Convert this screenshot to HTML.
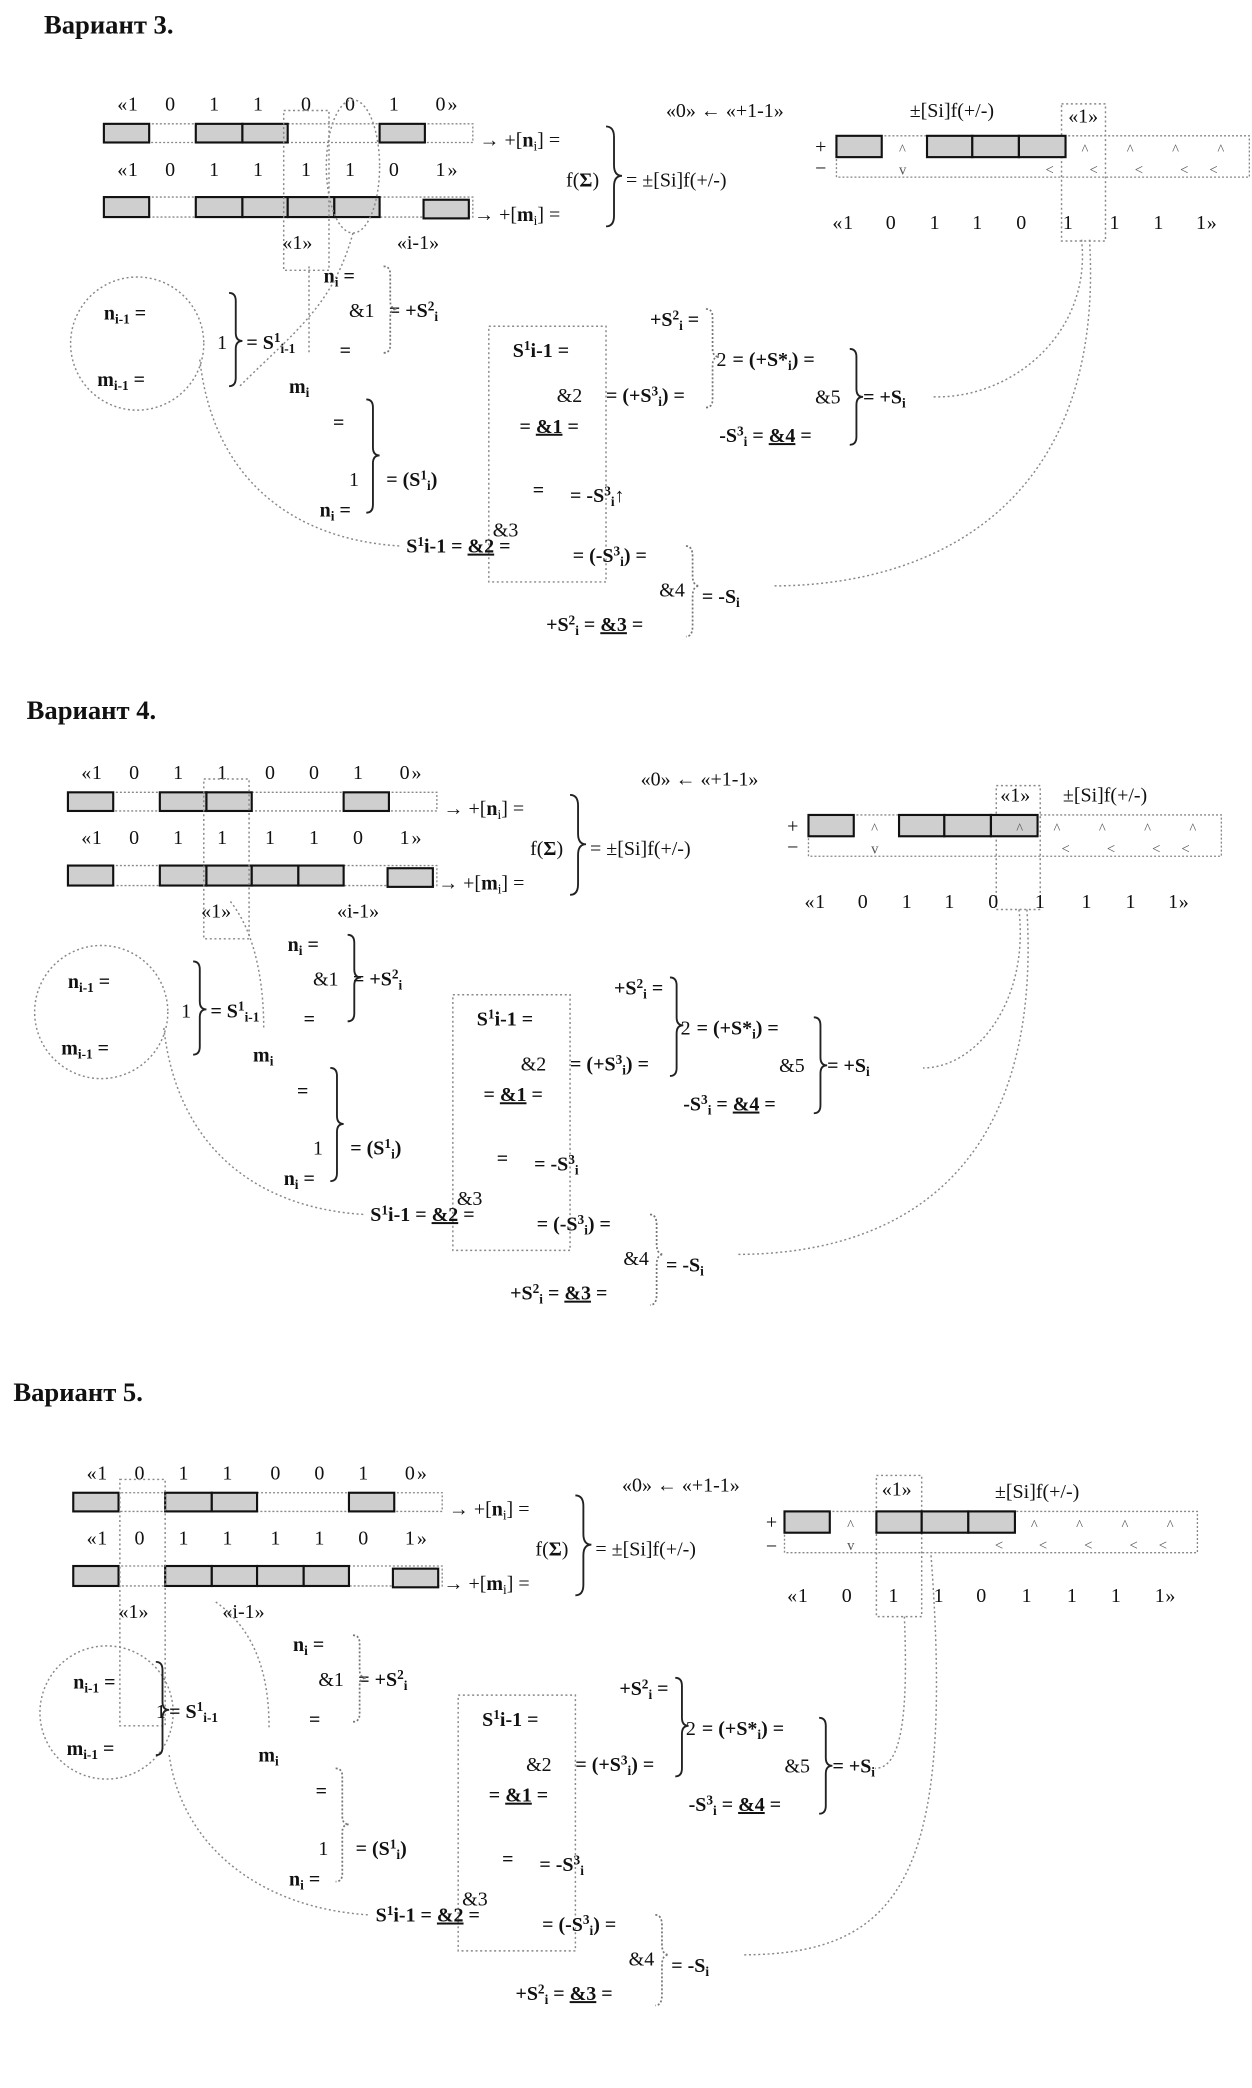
<!DOCTYPE html>
<html><head><meta charset="utf-8"><style>
html,body{margin:0;padding:0;background:#fff}
svg{display:block}
text{font-family:"Liberation Serif",serif;fill:#111}
.t{font-size:15px}
.h{font-size:20px;font-weight:bold}
.b{font-size:15px;font-weight:bold}
.s{font-size:10px}
.f{fill:#cfcfcf;stroke:#111;stroke-width:1.6}
.e{fill:none;stroke:#888;stroke-width:1;stroke-dasharray:1.5 1.5}
.d{fill:none;stroke:#888;stroke-width:1.1;stroke-dasharray:1.5 2}
.br{fill:none;stroke:#222;stroke-width:1.4}
.db{fill:none;stroke:#777;stroke-width:1.3;stroke-dasharray:1.5 1.5}
.a{font-size:11px;fill:#555}
</style></head><body>
<svg width="1252" height="2088" viewBox="0 0 940 1568" preserveAspectRatio="none" xmlns="http://www.w3.org/2000/svg">
<text x="33" y="25" class="h">Вариант 3.</text>
<text x="20" y="540" class="h">Вариант 4.</text>
<text x="10" y="1052" class="h">Вариант 5.</text>

<!-- ============ VARIANT 3 ============ -->
<g transform="translate(0,0)">
<text class="t" y="83" x="88 96 124 157 190 226 259 292 327 336">«10110010»</text>
<rect class="e" x="78" y="93" width="277" height="14"/>
<rect class="f" x="78" y="93" width="34" height="14"/>
<rect class="f" x="147" y="93" width="35" height="14"/><rect class="f" x="182" y="93" width="34" height="14"/>
<rect class="f" x="285" y="93" width="34" height="14"/>
<text class="t" y="132" x="88 96 124 157 190 226 259 292 327 336">«10111101»</text>
<rect class="e" x="78" y="148" width="277" height="15"/>
<rect class="f" x="78" y="148" width="34" height="15"/>
<rect class="f" x="147" y="148" width="35" height="15"/><rect class="f" x="182" y="148" width="34" height="15"/>
<rect class="f" x="216" y="148" width="35" height="15"/><rect class="f" x="251" y="148" width="34" height="15"/>
<rect class="f" x="318" y="150" width="34" height="14"/>
<rect class="d" x="213" y="83" width="34" height="120"/>
<ellipse class="d" cx="265" cy="125" rx="20" ry="50"/>
<text class="t" x="212" y="187">«1»</text><text class="t" x="298" y="187">«i-1»</text>
<text class="t" x="360" y="110">→ +[<tspan class="b">n</tspan><tspan class="s" dy="3">i</tspan><tspan dy="-3">] =</tspan></text>
<text class="t" x="356" y="166">→ +[<tspan class="b">m</tspan><tspan class="s" dy="3">i</tspan><tspan dy="-3">] =</tspan></text>
<text class="t" x="425" y="140">f(<tspan class="b">Σ</tspan>)</text>
<path class="br" d="M455,95 q6,0 6,8 V124 q0,8 6,8 q-6,0 -6,8 V162 q0,8 -6,8"/>
<text class="t" x="470" y="140">= ±[Si]f(+/-)</text>
<text class="t" x="500" y="88">«0» ← «+1-1»</text>
<text class="t" x="683" y="88">±[Si]f(+/-)</text>
<text class="t" x="802" y="92" font-size="11">«1»</text>
<rect class="d" x="797" y="78" width="33" height="103"/>
<text class="t" x="612" y="115">+</text><text class="t" x="612" y="131">−</text>
<rect class="e" x="628" y="102" width="310" height="31"/>
<rect class="f" x="628" y="102" width="34" height="16"/>
<rect class="f" x="696" y="102" width="34" height="16"/><rect class="f" x="730" y="102" width="35" height="16"/><rect class="f" x="765" y="102" width="35" height="16"/>
<text class="a" x="675" y="116">^</text><text class="a" x="675" y="131">v</text>
<text class="a" x="785" y="131">&lt;</text>
<text class="a" x="812" y="116">^</text><text class="a" x="846" y="116">^</text><text class="a" x="880" y="116">^</text><text class="a" x="914" y="116">^</text>
<text class="a" x="818" y="131">&lt;</text><text class="a" x="852" y="131">&lt;</text><text class="a" x="886" y="131">&lt;</text><text class="a" x="908" y="131">&lt;</text>
<text class="t" y="172" x="625 633 665 698 730 763 798 833 866 898 906">«101101111»</text>
<ellipse class="d" cx="103" cy="258" rx="50" ry="50"/>
<text class="b" x="78" y="240">n<tspan class="s" dy="3">i-1</tspan><tspan dy="-3"> =</tspan></text>
<text class="b" x="73" y="290">m<tspan class="s" dy="3">i-1</tspan><tspan dy="-3"> =</tspan></text>
<path class="br" d="M172,220 q5,0 5,6 V250 q0,6 5,6 q-5,0 -5,6 V284 q0,6 -5,6"/>
<text class="t" x="163" y="262">1</text>
<text class="b" x="185" y="262">= S<tspan class="s" dy="-5">1</tspan><tspan class="s" dy="8">i-1</tspan></text>
<text class="b" x="243" y="212">n<tspan class="s" dy="3">i</tspan><tspan dy="-3"> =</tspan></text>
<text class="t" x="262" y="238">&amp;1</text>
<text class="b" x="292" y="238">= +S<tspan class="s" dy="-5">2</tspan><tspan class="s" dy="8">i</tspan></text>
<text class="b" x="255" y="268">=</text>
<path class="db" d="M288,200 q5,0 5,6 V226 q0,6 5,6 q-5,0 -5,6 V259 q0,6 -5,6"/>
<text class="b" x="217" y="295">m<tspan class="s" dy="3">i</tspan></text>
<text class="b" x="250" y="322">=</text>
<path class="br" d="M275,300 q5,0 5,6 V336 q0,6 5,6 q-5,0 -5,6 V379 q0,6 -5,6"/>
<text class="t" x="262" y="365">1</text>
<text class="b" x="290" y="365">= (S<tspan class="s" dy="-5">1</tspan><tspan class="s" dy="8">i</tspan><tspan dy="-3">)</tspan></text>
<text class="b" x="240" y="388">n<tspan class="s" dy="3">i</tspan><tspan dy="-3"> =</tspan></text>
<rect class="d" x="367" y="245" width="88" height="192"/>
<text class="b" x="385" y="268">S<tspan class="s" dy="-5">1</tspan><tspan dy="5">i-1 =</tspan></text>
<text class="t" x="418" y="302">&amp;2</text>
<text class="b" x="390" y="325">= <tspan text-decoration="underline">&amp;1</tspan> =</text>
<text class="b" x="400" y="373">=</text>
<text class="t" x="370" y="403">&amp;3</text>
<text class="b" x="305" y="415">S<tspan class="s" dy="-5">1</tspan><tspan dy="5">i-1 = </tspan><tspan text-decoration="underline">&amp;2</tspan> =</text>
<text class="b" x="455" y="302">= (+S<tspan class="s" dy="-5">3</tspan><tspan class="s" dy="8">i</tspan><tspan dy="-3">) =</tspan></text>
<text class="b" x="488" y="245">+S<tspan class="s" dy="-5">2</tspan><tspan class="s" dy="8">i</tspan><tspan dy="-3"> =</tspan></text>
<path class="db" d="M530,232 q5,0 5,6 V262 q0,6 5,6 q-5,0 -5,6 V300 q0,6 -5,6"/>
<text class="t" x="538" y="275">2</text>
<text class="b" x="550" y="275">= (+S*<tspan class="s" dy="3">i</tspan><tspan dy="-3">) =</tspan></text>
<text class="t" x="612" y="303">&amp;5</text>
<path class="br" d="M638,262 q5,0 5,6 V292 q0,6 5,6 q-5,0 -5,6 V328 q0,6 -5,6"/>
<text class="b" x="648" y="303">= +S<tspan class="s" dy="3">i</tspan></text>
<text class="b" x="540" y="332">-S<tspan class="s" dy="-5">3</tspan><tspan class="s" dy="8">i</tspan><tspan dy="-3"> = </tspan><tspan text-decoration="underline">&amp;4</tspan> =</text>
<text class="b" x="428" y="377">= -S<tspan class="s" dy="-5">3</tspan><tspan class="s" dy="8">i</tspan><tspan dy="-3">↑</tspan></text>
<text class="b" x="430" y="422">= (-S<tspan class="s" dy="-5">3</tspan><tspan class="s" dy="8">i</tspan><tspan dy="-3">) =</tspan></text>
<path class="db" d="M515,410 q5,0 5,8 V432 q0,8 5,8 q-5,0 -5,8 V470 q0,8 -5,8"/>
<text class="t" x="495" y="448">&amp;4</text>
<text class="b" x="527" y="453">= -S<tspan class="s" dy="3">i</tspan></text>
<text class="b" x="410" y="474">+S<tspan class="s" dy="-5">2</tspan><tspan class="s" dy="8">i</tspan><tspan dy="-3"> = </tspan><tspan text-decoration="underline">&amp;3</tspan> =</text>
<path class="d" d="M812,180 C820,250 760,300 700,298"/>
<path class="d" d="M818,180 C830,380 700,440 580,440"/>
<path class="d" d="M150,270 C160,360 220,405 300,410"/>
<path class="d" d="M265,175 C250,230 220,250 180,290"/>
<path class="d" d="M232,200 V265"/>
</g>

<!-- ============ VARIANT 4 ============ -->
<g transform="translate(-27,502)">
<text class="t" y="83" x="88 96 124 157 190 226 259 292 327 336">«10110010»</text>
<rect class="e" x="78" y="93" width="277" height="14"/>
<rect class="f" x="78" y="93" width="34" height="14"/>
<rect class="f" x="147" y="93" width="35" height="14"/><rect class="f" x="182" y="93" width="34" height="14"/>
<rect class="f" x="285" y="93" width="34" height="14"/>
<text class="t" y="132" x="88 96 124 157 190 226 259 292 327 336">«10111101»</text>
<rect class="e" x="78" y="148" width="277" height="15"/>
<rect class="f" x="78" y="148" width="34" height="15"/>
<rect class="f" x="147" y="148" width="35" height="15"/><rect class="f" x="182" y="148" width="34" height="15"/>
<rect class="f" x="216" y="148" width="35" height="15"/><rect class="f" x="251" y="148" width="34" height="15"/>
<rect class="f" x="318" y="150" width="34" height="14"/>
<rect class="d" x="180" y="83" width="34" height="120"/>
<text class="t" x="178" y="187">«1»</text><text class="t" x="280" y="187">«i-1»</text>
<text class="t" x="360" y="110">→ +[<tspan class="b">n</tspan><tspan class="s" dy="3">i</tspan><tspan dy="-3">] =</tspan></text>
<text class="t" x="356" y="166">→ +[<tspan class="b">m</tspan><tspan class="s" dy="3">i</tspan><tspan dy="-3">] =</tspan></text>
<text class="t" x="425" y="140">f(<tspan class="b">Σ</tspan>)</text>
<path class="br" d="M455,95 q6,0 6,8 V124 q0,8 6,8 q-6,0 -6,8 V162 q0,8 -6,8"/>
<text class="t" x="470" y="140">= ±[Si]f(+/-)</text>
<text class="t" x="508" y="88">«0» ← «+1-1»</text>
<text class="t" x="825" y="100">±[Si]f(+/-)</text>
<text class="t" x="778" y="100" font-size="11">«1»</text>
<rect class="d" x="775" y="88" width="33" height="93"/>
<text class="t" x="618" y="123">+</text><text class="t" x="618" y="139">−</text>
<rect class="e" x="634" y="110" width="310" height="31"/>
<rect class="f" x="634" y="110" width="34" height="16"/>
<rect class="f" x="702" y="110" width="34" height="16"/><rect class="f" x="736" y="110" width="35" height="16"/><rect class="f" x="771" y="110" width="35" height="16"/>
<text class="a" x="681" y="124">^</text><text class="a" x="681" y="139">v</text>
<text class="a" x="790" y="124">^</text>
<text class="a" x="818" y="124">^</text><text class="a" x="852" y="124">^</text><text class="a" x="886" y="124">^</text><text class="a" x="920" y="124">^</text>
<text class="a" x="824" y="139">&lt;</text><text class="a" x="858" y="139">&lt;</text><text class="a" x="892" y="139">&lt;</text><text class="a" x="914" y="139">&lt;</text>
<text class="t" y="180" x="631 639 671 704 736 769 804 839 872 904 912">«101101111»</text>
<ellipse class="d" cx="103" cy="258" rx="50" ry="50"/>
<text class="b" x="78" y="240">n<tspan class="s" dy="3">i-1</tspan><tspan dy="-3"> =</tspan></text>
<text class="b" x="73" y="290">m<tspan class="s" dy="3">i-1</tspan><tspan dy="-3"> =</tspan></text>
<path class="br" d="M172,220 q5,0 5,6 V250 q0,6 5,6 q-5,0 -5,6 V284 q0,6 -5,6"/>
<text class="t" x="163" y="262">1</text>
<text class="b" x="185" y="262">= S<tspan class="s" dy="-5">1</tspan><tspan class="s" dy="8">i-1</tspan></text>
<text class="b" x="243" y="212">n<tspan class="s" dy="3">i</tspan><tspan dy="-3"> =</tspan></text>
<text class="t" x="262" y="238">&amp;1</text>
<text class="b" x="292" y="238">= +S<tspan class="s" dy="-5">2</tspan><tspan class="s" dy="8">i</tspan></text>
<text class="b" x="255" y="268">=</text>
<path class="br" d="M288,200 q5,0 5,6 V226 q0,6 5,6 q-5,0 -5,6 V259 q0,6 -5,6"/>
<text class="b" x="217" y="295">m<tspan class="s" dy="3">i</tspan></text>
<text class="b" x="250" y="322">=</text>
<path class="br" d="M275,300 q5,0 5,6 V336 q0,6 5,6 q-5,0 -5,6 V379 q0,6 -5,6"/>
<text class="t" x="262" y="365">1</text>
<text class="b" x="290" y="365">= (S<tspan class="s" dy="-5">1</tspan><tspan class="s" dy="8">i</tspan><tspan dy="-3">)</tspan></text>
<text class="b" x="240" y="388">n<tspan class="s" dy="3">i</tspan><tspan dy="-3"> =</tspan></text>
<rect class="d" x="367" y="245" width="88" height="192"/>
<text class="b" x="385" y="268">S<tspan class="s" dy="-5">1</tspan><tspan dy="5">i-1 =</tspan></text>
<text class="t" x="418" y="302">&amp;2</text>
<text class="b" x="390" y="325">= <tspan text-decoration="underline">&amp;1</tspan> =</text>
<text class="b" x="400" y="373">=</text>
<text class="t" x="370" y="403">&amp;3</text>
<text class="b" x="305" y="415">S<tspan class="s" dy="-5">1</tspan><tspan dy="5">i-1 = </tspan><tspan text-decoration="underline">&amp;2</tspan> =</text>
<text class="b" x="455" y="302">= (+S<tspan class="s" dy="-5">3</tspan><tspan class="s" dy="8">i</tspan><tspan dy="-3">) =</tspan></text>
<text class="b" x="488" y="245">+S<tspan class="s" dy="-5">2</tspan><tspan class="s" dy="8">i</tspan><tspan dy="-3"> =</tspan></text>
<path class="br" d="M530,232 q5,0 5,6 V262 q0,6 5,6 q-5,0 -5,6 V300 q0,6 -5,6"/>
<text class="t" x="538" y="275">2</text>
<text class="b" x="550" y="275">= (+S*<tspan class="s" dy="3">i</tspan><tspan dy="-3">) =</tspan></text>
<text class="t" x="612" y="303">&amp;5</text>
<path class="br" d="M638,262 q5,0 5,6 V292 q0,6 5,6 q-5,0 -5,6 V328 q0,6 -5,6"/>
<text class="b" x="648" y="303">= +S<tspan class="s" dy="3">i</tspan></text>
<text class="b" x="540" y="332">-S<tspan class="s" dy="-5">3</tspan><tspan class="s" dy="8">i</tspan><tspan dy="-3"> = </tspan><tspan text-decoration="underline">&amp;4</tspan> =</text>
<text class="b" x="428" y="377">= -S<tspan class="s" dy="-5">3</tspan><tspan class="s" dy="8">i</tspan></text>
<text class="b" x="430" y="422">= (-S<tspan class="s" dy="-5">3</tspan><tspan class="s" dy="8">i</tspan><tspan dy="-3">) =</tspan></text>
<path class="db" d="M515,410 q5,0 5,8 V432 q0,8 5,8 q-5,0 -5,8 V470 q0,8 -5,8"/>
<text class="t" x="495" y="448">&amp;4</text>
<text class="b" x="527" y="453">= -S<tspan class="s" dy="3">i</tspan></text>
<text class="b" x="410" y="474">+S<tspan class="s" dy="-5">2</tspan><tspan class="s" dy="8">i</tspan><tspan dy="-3"> = </tspan><tspan text-decoration="underline">&amp;3</tspan> =</text>
<path class="d" d="M792,181 C800,250 760,300 720,300"/>
<path class="d" d="M798,181 C810,380 700,440 580,440"/>
<path class="d" d="M150,270 C160,360 220,405 300,410"/>
<path class="d" d="M200,175 C220,200 225,240 225,270"/>
</g>

<!-- ============ VARIANT 5 ============ -->
<g transform="translate(-23,1028)">
<text class="t" y="83" x="88 96 124 157 190 226 259 292 327 336">«10110010»</text>
<rect class="e" x="78" y="93" width="277" height="14"/>
<rect class="f" x="78" y="93" width="34" height="14"/>
<rect class="f" x="147" y="93" width="35" height="14"/><rect class="f" x="182" y="93" width="34" height="14"/>
<rect class="f" x="285" y="93" width="34" height="14"/>
<text class="t" y="132" x="88 96 124 157 190 226 259 292 327 336">«10111101»</text>
<rect class="e" x="78" y="148" width="277" height="15"/>
<rect class="f" x="78" y="148" width="34" height="15"/>
<rect class="f" x="147" y="148" width="35" height="15"/><rect class="f" x="182" y="148" width="34" height="15"/>
<rect class="f" x="216" y="148" width="35" height="15"/><rect class="f" x="251" y="148" width="34" height="15"/>
<rect class="f" x="318" y="150" width="34" height="14"/>
<rect class="d" x="113" y="83" width="34" height="185"/>
<text class="t" x="112" y="187">«1»</text><text class="t" x="190" y="187">«i-1»</text>
<text class="t" x="360" y="110">→ +[<tspan class="b">n</tspan><tspan class="s" dy="3">i</tspan><tspan dy="-3">] =</tspan></text>
<text class="t" x="356" y="166">→ +[<tspan class="b">m</tspan><tspan class="s" dy="3">i</tspan><tspan dy="-3">] =</tspan></text>
<text class="t" x="425" y="140">f(<tspan class="b">Σ</tspan>)</text>
<path class="br" d="M455,95 q6,0 6,8 V124 q0,8 6,8 q-6,0 -6,8 V162 q0,8 -6,8"/>
<text class="t" x="470" y="140">= ±[Si]f(+/-)</text>
<text class="t" x="490" y="92">«0» ← «+1-1»</text>
<text class="t" x="770" y="97">±[Si]f(+/-)</text>
<text class="t" x="685" y="95" font-size="11">«1»</text>
<rect class="d" x="681" y="80" width="34" height="106"/>
<text class="t" x="598" y="120">+</text><text class="t" x="598" y="138">−</text>
<rect class="e" x="612" y="107" width="310" height="31"/>
<rect class="f" x="612" y="107" width="34" height="16"/>
<rect class="f" x="681" y="107" width="34" height="16"/><rect class="f" x="715" y="107" width="35" height="16"/><rect class="f" x="750" y="107" width="35" height="16"/>
<text class="a" x="659" y="121">^</text><text class="a" x="659" y="136">v</text>
<text class="a" x="770" y="136">&lt;</text>
<text class="a" x="797" y="121">^</text><text class="a" x="831" y="121">^</text><text class="a" x="865" y="121">^</text><text class="a" x="899" y="121">^</text>
<text class="a" x="803" y="136">&lt;</text><text class="a" x="837" y="136">&lt;</text><text class="a" x="871" y="136">&lt;</text><text class="a" x="893" y="136">&lt;</text>
<text class="t" y="175" x="614 622 655 690 724 756 790 824 857 890 898">«101101111»</text>
<ellipse class="d" cx="103" cy="258" rx="50" ry="50"/>
<text class="b" x="78" y="240">n<tspan class="s" dy="3">i-1</tspan><tspan dy="-3"> =</tspan></text>
<text class="b" x="73" y="290">m<tspan class="s" dy="3">i-1</tspan><tspan dy="-3"> =</tspan></text>
<path class="br" d="M140,220 q5,0 5,6 V250 q0,6 5,6 q-5,0 -5,6 V284 q0,6 -5,6"/>
<text class="t" x="140" y="262">1</text>
<text class="b" x="150" y="262">= S<tspan class="s" dy="-5">1</tspan><tspan class="s" dy="8">i-1</tspan></text>
<text class="b" x="243" y="212">n<tspan class="s" dy="3">i</tspan><tspan dy="-3"> =</tspan></text>
<text class="t" x="262" y="238">&amp;1</text>
<text class="b" x="292" y="238">= +S<tspan class="s" dy="-5">2</tspan><tspan class="s" dy="8">i</tspan></text>
<text class="b" x="255" y="268">=</text>
<path class="db" d="M288,200 q5,0 5,6 V226 q0,6 5,6 q-5,0 -5,6 V259 q0,6 -5,6"/>
<text class="b" x="217" y="295">m<tspan class="s" dy="3">i</tspan></text>
<text class="b" x="260" y="322">=</text>
<path class="db" d="M275,300 q5,0 5,6 V336 q0,6 5,6 q-5,0 -5,6 V379 q0,6 -5,6"/>
<text class="t" x="262" y="365">1</text>
<text class="b" x="290" y="365">= (S<tspan class="s" dy="-5">1</tspan><tspan class="s" dy="8">i</tspan><tspan dy="-3">)</tspan></text>
<text class="b" x="240" y="388">n<tspan class="s" dy="3">i</tspan><tspan dy="-3"> =</tspan></text>
<rect class="d" x="367" y="245" width="88" height="192"/>
<text class="b" x="385" y="268">S<tspan class="s" dy="-5">1</tspan><tspan dy="5">i-1 =</tspan></text>
<text class="t" x="418" y="302">&amp;2</text>
<text class="b" x="390" y="325">= <tspan text-decoration="underline">&amp;1</tspan> =</text>
<text class="b" x="400" y="373">=</text>
<text class="t" x="370" y="403">&amp;3</text>
<text class="b" x="305" y="415">S<tspan class="s" dy="-5">1</tspan><tspan dy="5">i-1 = </tspan><tspan text-decoration="underline">&amp;2</tspan> =</text>
<text class="b" x="455" y="302">= (+S<tspan class="s" dy="-5">3</tspan><tspan class="s" dy="8">i</tspan><tspan dy="-3">) =</tspan></text>
<text class="b" x="488" y="245">+S<tspan class="s" dy="-5">2</tspan><tspan class="s" dy="8">i</tspan><tspan dy="-3"> =</tspan></text>
<path class="br" d="M530,232 q5,0 5,6 V262 q0,6 5,6 q-5,0 -5,6 V300 q0,6 -5,6"/>
<text class="t" x="538" y="275">2</text>
<text class="b" x="550" y="275">= (+S*<tspan class="s" dy="3">i</tspan><tspan dy="-3">) =</tspan></text>
<text class="t" x="612" y="303">&amp;5</text>
<path class="br" d="M638,262 q5,0 5,6 V292 q0,6 5,6 q-5,0 -5,6 V328 q0,6 -5,6"/>
<text class="b" x="648" y="303">= +S<tspan class="s" dy="3">i</tspan></text>
<text class="b" x="540" y="332">-S<tspan class="s" dy="-5">3</tspan><tspan class="s" dy="8">i</tspan><tspan dy="-3"> = </tspan><tspan text-decoration="underline">&amp;4</tspan> =</text>
<text class="b" x="428" y="377">= -S<tspan class="s" dy="-5">3</tspan><tspan class="s" dy="8">i</tspan></text>
<text class="b" x="430" y="422">= (-S<tspan class="s" dy="-5">3</tspan><tspan class="s" dy="8">i</tspan><tspan dy="-3">) =</tspan></text>
<path class="db" d="M515,410 q5,0 5,8 V432 q0,8 5,8 q-5,0 -5,8 V470 q0,8 -5,8"/>
<text class="t" x="495" y="448">&amp;4</text>
<text class="b" x="527" y="453">= -S<tspan class="s" dy="3">i</tspan></text>
<text class="b" x="410" y="474">+S<tspan class="s" dy="-5">2</tspan><tspan class="s" dy="8">i</tspan><tspan dy="-3"> = </tspan><tspan text-decoration="underline">&amp;3</tspan> =</text>
<path class="d" d="M702,186 C705,260 700,300 680,300"/>
<path class="d" d="M722,140 C740,380 700,440 580,440"/>
<path class="d" d="M150,290 C160,360 220,405 300,410"/>
<path class="d" d="M185,175 C220,200 225,240 225,270"/>
</g>
</svg>
</body></html>
